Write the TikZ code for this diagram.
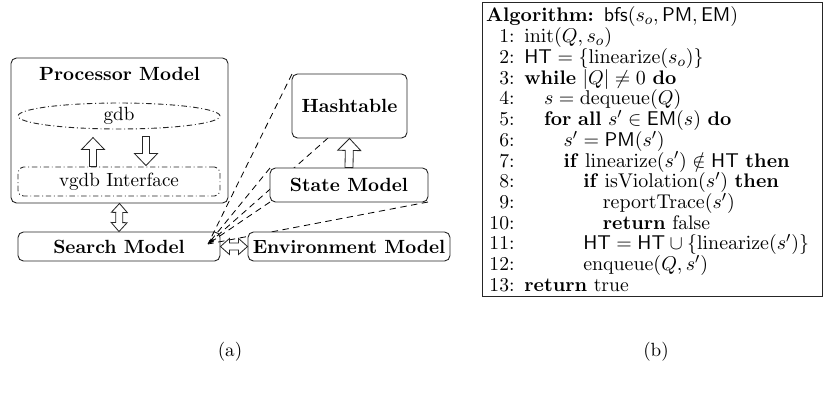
\documentclass[tikz,border=0pt]{standalone}
\usetikzlibrary{arrows.meta,shapes.geometric,calc}
\def\u{0.55pt}
\newcommand{\aln}[2]{\makebox[1.45em][r]{#1:}\hspace{0.5em}\hspace{#2em}}
% single block arrow: from, to, shaft half width, head half width, head length (in px)
\newcommand{\sarrow}[5]{%
  \draw[blkline] let \p1=($(#2)-(#1)$), \n1={veclen(\x1,\y1)}, \n2={atan2(\y1,\x1)} in
  [shift={(#1)}, rotate=\n2]
  (0pt,{-#3*\u}) -- ({\n1-#5*\u},{-#3*\u}) -- ({\n1-#5*\u},{-#4*\u}) -- (\n1,0pt)
  -- ({\n1-#5*\u},{#4*\u}) -- ({\n1-#5*\u},{#3*\u}) -- (0pt,{#3*\u}) -- cycle;}
% double block arrow
\newcommand{\darrow}[5]{%
  \draw[blkline] let \p1=($(#2)-(#1)$), \n1={veclen(\x1,\y1)}, \n2={atan2(\y1,\x1)} in
  [shift={(#1)}, rotate=\n2]
  (0pt,0pt) -- ({#5*\u},{-#4*\u}) -- ({#5*\u},{-#3*\u}) -- ({\n1-#5*\u},{-#3*\u}) -- ({\n1-#5*\u},{-#4*\u}) -- (\n1,0pt)
  -- ({\n1-#5*\u},{#4*\u}) -- ({\n1-#5*\u},{#3*\u}) -- ({#5*\u},{#3*\u}) -- ({#5*\u},{#4*\u}) -- cycle;}
\begin{document}
\begin{tikzpicture}[x=0.55pt,y=-0.55pt,
  box/.style={draw=black!85, line width=0.5pt, rounded corners=3pt, fill=white, inner sep=0pt, font=\fontsize{10.5}{12}\selectfont\bfseries},
  dline/.style={draw=black, line width=0.45pt, dash pattern=on 3.5pt off 2.5pt},
  ddot/.style={draw=black!85, line width=0.5pt, dash pattern=on 3pt off 1.5pt on 0.5pt off 1.5pt, font=\fontsize{10.5}{12}\selectfont},
  blkline/.style={draw=black!85, line width=0.45pt, fill=white, line join=miter},
  captxt/.style={font=\fontsize{10.5}{12}\selectfont}
]
\useasboundingbox (0,0) rectangle (825,392);

% processor model
\node[box, minimum width=217*\u, minimum height=145*\u] (proc) at (119.5,130.5) {};
\node[font=\fontsize{10.5}{12}\selectfont\bfseries] (proctitle) at (119.5,74) {Processor Model};
\node[ellipse, ddot, minimum width=202*\u, minimum height=26*\u, inner sep=0pt] (gdb) at (119,116) {gdb};
\node[ddot, rounded corners=3pt, minimum width=202*\u, minimum height=29*\u, inner sep=0pt] (vgdb) at (119,181.5) {vgdb Interface};

% search model (drawn before dashed lines)
\node[box, minimum width=202*\u, minimum height=29*\u] (search) at (119,246.5) {Search Model};
\coordinate (P) at (208,244);

% hashtable and state corner points
\coordinate (hnw) at (292,74);
\coordinate (hbot) at (328,138);
\coordinate (snw) at (270,168);
\coordinate (ssw) at (270,202);
\coordinate (sse) at (428,202);

\draw[dline] (hnw) -- (P);
\draw[dline] (snw) -- (P);
\draw[dline, -{Latex[length=3.2pt,width=2.6pt]}] (hbot) -- (P);
\draw[dline] (ssw) -- (P);
\draw[dline] (sse) -- (P);

\node[box, minimum width=115*\u, minimum height=64*\u] (hash) at (349.5,106) {Hashtable};
\node[box, minimum width=158*\u, minimum height=34*\u] (state) at (349,185) {State Model};
\node[box, minimum width=202*\u, minimum height=29*\u] (env) at (349,246.5) {Environment Model};

% block arrows
\coordinate (upa) at ($(vgdb.north)+(-26,0)$);
\coordinate (upb) at ($(vgdb.north)+(-26,-29)$);
\coordinate (dna) at ($(vgdb.north)+(27,-30)$);
\coordinate (dnb) at ($(vgdb.north)+(27,-1)$);
\sarrow{upa}{upb}{3.5}{11.5}{12}
\sarrow{dna}{dnb}{3.5}{11.5}{12}
\sarrow{state.north}{hash.south}{4}{11.5}{12}
\darrow{proc.south}{search.north}{3.5}{8}{9}
\darrow{search.east}{env.west}{3.5}{8}{9}

% algorithm
\node[draw=black!85, line width=0.5pt, anchor=north west, inner xsep=2pt, inner ysep=2.5pt,
  text width=183pt, align=left, font=\fontsize{10.8}{11.4}\selectfont] (alg) at (482,2) {%
\lineskiplimit=-50pt\lineskip=0pt
\textbf{Algorithm:} $\mathsf{bfs}(s_o,\mathsf{PM},\mathsf{EM})$\\
\aln{1}{0}$\mathrm{init}(Q,s_o)$\\
\aln{2}{0}$\mathsf{HT}=\{\mathrm{linearize}(s_o)\}$\\
\aln{3}{0}\textbf{while} $|Q|\neq 0$ \textbf{do}\\
\aln{4}{1}$s=\mathrm{dequeue}(Q)$\\
\aln{5}{1}\textbf{for all} $s'\in\mathsf{EM}(s)$ \textbf{do}\\
\aln{6}{2}$s'=\mathsf{PM}(s')$\\
\aln{7}{2}\textbf{if} $\mathrm{linearize}(s')\notin\mathsf{HT}$ \textbf{then}\\
\aln{8}{3}\textbf{if} $\mathrm{isViolation}(s')$ \textbf{then}\\
\aln{9}{4}$\mathrm{reportTrace}(s')$\\
\aln{10}{4}\textbf{return} false\\
\aln{11}{3}$\mathsf{HT}=\mathsf{HT}\cup\{\mathrm{linearize}(s')\}$\\
\aln{12}{3}$\mathrm{enqueue}(Q,s')$\\
\aln{13}{0}\textbf{return} true};

\node[captxt] (capa) at (230,352) {(a)};
\node[captxt] (capb) at (656,352) {(b)};
\end{tikzpicture}
\end{document}
